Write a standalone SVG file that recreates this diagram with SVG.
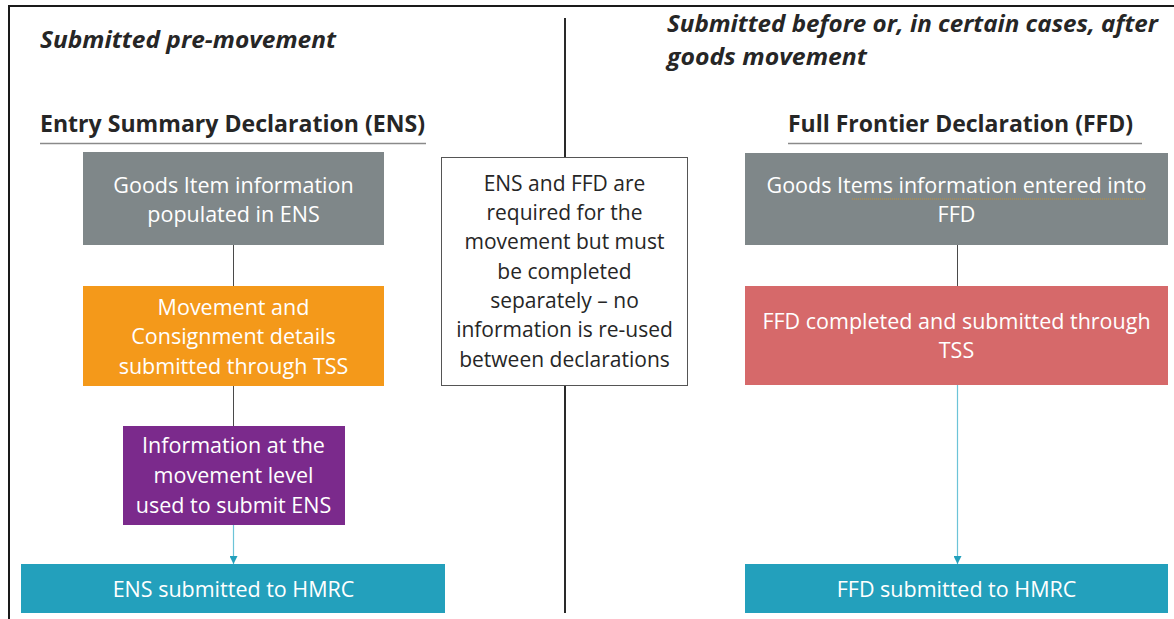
<svg xmlns="http://www.w3.org/2000/svg" width="1174" height="619" viewBox="0 0 1174 619">
<defs>
<style>
.hdr{font-family:"Open Sans","Liberation Sans",Arial,sans-serif;font-weight:bold;fill:#262626;}
.it{font-style:italic;font-size:24px;}
.ttl{font-size:23px;}
.bt{font-family:"Open Sans","Liberation Sans",Arial,sans-serif;font-size:21.5px;fill:#ffffff;text-anchor:middle;}
.mt{font-family:"Open Sans","Liberation Sans",Arial,sans-serif;font-size:21px;fill:#262626;text-anchor:middle;}
.ul{stroke:#8a8a8a;stroke-width:1.5;}
.cg{stroke:#4a4a4a;stroke-width:1;fill:none;}
.cb{stroke:#6cc4d8;stroke-width:1.2;fill:none;marker-end:url(#ah);}
</style>
<marker id="ah" viewBox="0 0 10 10" refX="10" refY="5" markerWidth="10" markerHeight="8" markerUnits="userSpaceOnUse" orient="auto">
<path d="M0,0 L10,5 L0,10 z" fill="#23a0bc"/>
</marker>
</defs>
<rect width="1174" height="619" fill="#ffffff"/>
<g id="frame">
<path d="M9,619 L9,6 L1174,6" fill="none" stroke="#1a1a1a" stroke-width="2"/>
<line x1="565" y1="18" x2="565" y2="613" stroke="#2a2a2a" stroke-width="2"/>
</g>
<g id="headers">
<text class="hdr it" x="40" y="48" textLength="296" lengthAdjust="spacingAndGlyphs">Submitted pre-movement</text>
<text class="hdr it" x="667" y="32" textLength="491" lengthAdjust="spacingAndGlyphs">Submitted before or, in certain cases, after</text>
<text class="hdr it" x="667" y="65" textLength="200" lengthAdjust="spacingAndGlyphs">goods movement</text>
<text class="hdr ttl" x="40" y="132" textLength="385" lengthAdjust="spacingAndGlyphs">Entry Summary Declaration (ENS)</text>
<line class="ul" x1="40" y1="143.5" x2="426" y2="143.5"/>
<text class="hdr ttl" x="788" y="132" textLength="345" lengthAdjust="spacingAndGlyphs">Full Frontier Declaration (FFD)</text>
<line class="ul" x1="788" y1="143.5" x2="1142" y2="143.5"/>
</g>
<g id="connectors">
<line class="cg" x1="233.5" y1="245" x2="233.5" y2="286"/>
<line class="cg" x1="233.5" y1="386" x2="233.5" y2="426"/>
<line class="cb" x1="233.5" y1="525" x2="233.5" y2="564"/>
<line class="cg" x1="957.5" y1="245" x2="957.5" y2="286"/>
<line class="cb" x1="957.5" y1="385" x2="957.5" y2="564"/>
</g>
<g id="ens-goods">
<rect x="83" y="152" width="301" height="93" fill="#7f8789"/>
<text class="bt" x="233.5" y="193">Goods Item information</text>
<text class="bt" x="233.5" y="222">populated in ENS</text>
</g>
<g id="ens-movement">
<rect x="83" y="286" width="301" height="100" fill="#f4991a"/>
<text class="bt" x="233.5" y="315">Movement and</text>
<text class="bt" x="233.5" y="344">Consignment details</text>
<text class="bt" x="233.5" y="374">submitted through TSS</text>
</g>
<g id="ens-info">
<rect x="123" y="426" width="222" height="99" fill="#7b2a8c"/>
<text class="bt" x="233.5" y="453">Information at the</text>
<text class="bt" x="233.5" y="483">movement level</text>
<text class="bt" x="233.5" y="513">used to submit ENS</text>
</g>
<g id="ens-submitted">
<rect x="21" y="564" width="424" height="49" fill="#23a0bc"/>
<text class="bt" x="233.5" y="597">ENS submitted to HMRC</text>
</g>
<g id="note">
<rect x="441.5" y="157.5" width="246" height="228" fill="#ffffff" stroke="#555555" stroke-width="1"/>
<text class="mt" x="564.5" y="191">ENS and FFD are</text>
<text class="mt" x="564.5" y="220">required for the</text>
<text class="mt" x="564.5" y="249">movement but must</text>
<text class="mt" x="564.5" y="279">be completed</text>
<text class="mt" x="564.5" y="308">separately – no</text>
<text class="mt" x="564.5" y="337">information is re-used</text>
<text class="mt" x="564.5" y="367">between declarations</text>
</g>
<g id="ffd-goods">
<rect x="745" y="153" width="423" height="92" fill="#7f8789"/>
<text class="bt" x="956.5" y="193">Goods Items information entered into</text>
<text class="bt" x="956.5" y="222">FFD</text>
<line x1="852" y1="199" x2="1146" y2="199" stroke="#c8922e" stroke-width="1" stroke-dasharray="1 1"/>
</g>
<g id="ffd-completed">
<rect x="745" y="286" width="423" height="99" fill="#d6696a"/>
<text class="bt" x="956.5" y="329">FFD completed and submitted through</text>
<text class="bt" x="956.5" y="358">TSS</text>
</g>
<g id="ffd-submitted">
<rect x="745" y="564" width="423" height="49" fill="#23a0bc"/>
<text class="bt" x="956.5" y="597">FFD submitted to HMRC</text>
</g>
</svg>
